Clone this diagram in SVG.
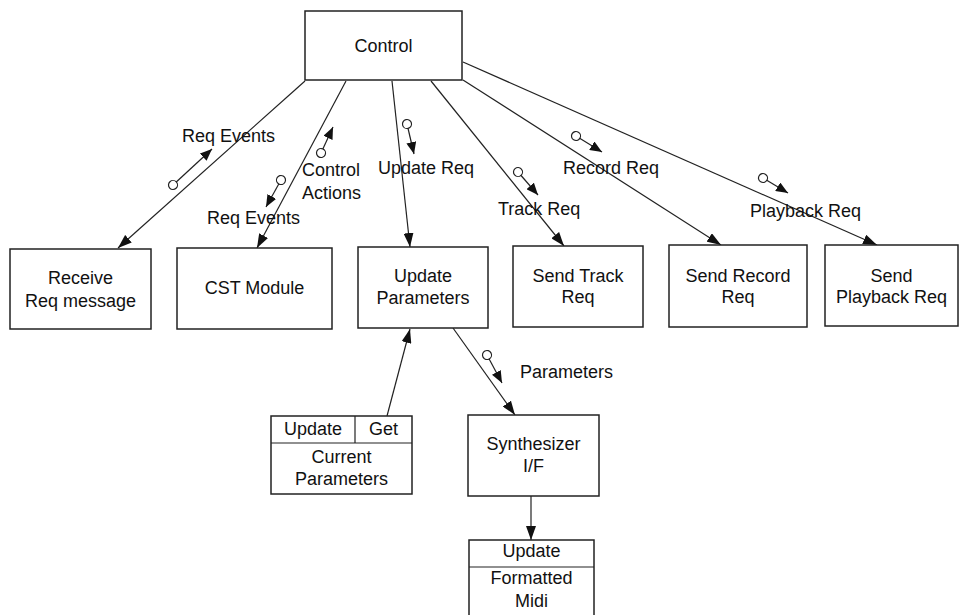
<svg xmlns="http://www.w3.org/2000/svg" width="959" height="615" viewBox="0 0 959 615">
<defs>
<style>
.box{fill:#fff;stroke:#222;stroke-width:1.5}
.ln{fill:none;stroke:#222;stroke-width:1.2}
.c{stroke:#222;stroke-width:1.2;marker-end:url(#ah)}
.f{stroke:#222;stroke-width:1.2;marker-start:url(#oc);marker-end:url(#fh)}
text{font-family:"Liberation Sans",Arial,sans-serif;font-size:18px;fill:#111}
.m{text-anchor:middle}
</style>
<marker id="ah" markerUnits="userSpaceOnUse" markerWidth="14" markerHeight="10" viewBox="0 0 14 10" refX="14" refY="5" orient="auto"><path d="M0,0 L14,5 L0,10 Z" fill="#111"/></marker>
<marker id="fh" markerUnits="userSpaceOnUse" markerWidth="12" markerHeight="10" viewBox="0 0 12 10" refX="12" refY="5" orient="auto"><path d="M0,0 L12,5 L0,10 Z" fill="#111"/></marker>
<marker id="oc" markerUnits="userSpaceOnUse" markerWidth="12" markerHeight="12" viewBox="0 0 12 12" refX="6" refY="6" orient="auto"><circle cx="6" cy="6" r="4.5" fill="#fff" stroke="#222" stroke-width="1.2"/></marker>
</defs>
<rect width="959" height="615" fill="#fff"/>

<g id="connectors">
<line class="c" x1="305" y1="81" x2="118" y2="248"/>
<line class="c" x1="346" y1="81" x2="257" y2="248"/>
<line class="c" x1="392" y1="81" x2="410" y2="247"/>
<line class="c" x1="431" y1="81" x2="564" y2="246"/>
<line class="c" x1="463" y1="80" x2="721" y2="245"/>
<line class="c" x1="463" y1="62" x2="877" y2="245"/>
<line class="c" x1="387" y1="416" x2="410" y2="329"/>
<line class="c" x1="453" y1="328" x2="515" y2="415"/>
<line class="c" x1="531" y1="496" x2="531" y2="540"/>
</g>

<g id="flows">
<line class="f" x1="173" y1="185" x2="212" y2="149"/>
<line class="f" x1="321" y1="153" x2="333" y2="127"/>
<line class="f" x1="281" y1="180" x2="266" y2="207"/>
<line class="f" x1="407" y1="124" x2="414" y2="154"/>
<line class="f" x1="518" y1="172" x2="538" y2="195"/>
<line class="f" x1="576" y1="136" x2="602" y2="152"/>
<line class="f" x1="763" y1="178" x2="788" y2="193"/>
<line class="f" x1="487" y1="355" x2="502" y2="383"/>
</g>

<g id="labels">
<text x="182" y="142">Req Events</text>
<text x="302" y="176">Control</text>
<text x="302" y="199">Actions</text>
<text x="207" y="224">Req Events</text>
<text x="378" y="174">Update Req</text>
<text x="498" y="215">Track Req</text>
<text x="563" y="174">Record Req</text>
<text x="750" y="217">Playback Req</text>
<text x="520" y="378">Parameters</text>
</g>

<g id="control">
<rect class="box" x="305" y="11" width="157" height="69"/>
<text class="m" x="383.5" y="52">Control</text>
</g>
<g id="receive">
<rect class="box" x="10" y="249" width="141" height="80"/>
<text class="m" x="80.5" y="284">Receive</text>
<text class="m" x="80.5" y="307">Req message</text>
</g>
<g id="cst">
<rect class="box" x="177" y="248" width="155" height="81"/>
<text class="m" x="254.5" y="294">CST Module</text>
</g>
<g id="updateparams">
<rect class="box" x="358" y="247" width="130" height="81"/>
<text class="m" x="423" y="282">Update</text>
<text class="m" x="423" y="304">Parameters</text>
</g>
<g id="sendtrack">
<rect class="box" x="513" y="246" width="130" height="81"/>
<text class="m" x="578" y="282">Send Track</text>
<text class="m" x="578" y="303">Req</text>
</g>
<g id="sendrecord">
<rect class="box" x="669" y="245" width="138" height="82"/>
<text class="m" x="738" y="282">Send Record</text>
<text class="m" x="738" y="303">Req</text>
</g>
<g id="sendplayback">
<rect class="box" x="825" y="245" width="133" height="81"/>
<text class="m" x="891.5" y="282">Send</text>
<text class="m" x="891.5" y="303">Playback Req</text>
</g>
<g id="currentparams">
<rect class="box" x="271" y="416" width="141" height="78"/>
<line class="ln" x1="271" y1="443" x2="412" y2="443"/>
<line class="ln" x1="355" y1="416" x2="355" y2="443"/>
<text class="m" x="313" y="435">Update</text>
<text class="m" x="383.5" y="435">Get</text>
<text class="m" x="341.5" y="463">Current</text>
<text class="m" x="341.5" y="485">Parameters</text>
</g>
<g id="synth">
<rect class="box" x="468" y="415" width="131" height="81"/>
<text class="m" x="533.5" y="450">Synthesizer</text>
<text class="m" x="533.5" y="472">I/F</text>
</g>
<g id="midi">
<rect class="box" x="469" y="540" width="125" height="85"/>
<line class="ln" x1="469" y1="567" x2="594" y2="567"/>
<text class="m" x="531.5" y="557">Update</text>
<text class="m" x="531.5" y="584">Formatted</text>
<text class="m" x="531.5" y="607">Midi</text>
</g>
</svg>
